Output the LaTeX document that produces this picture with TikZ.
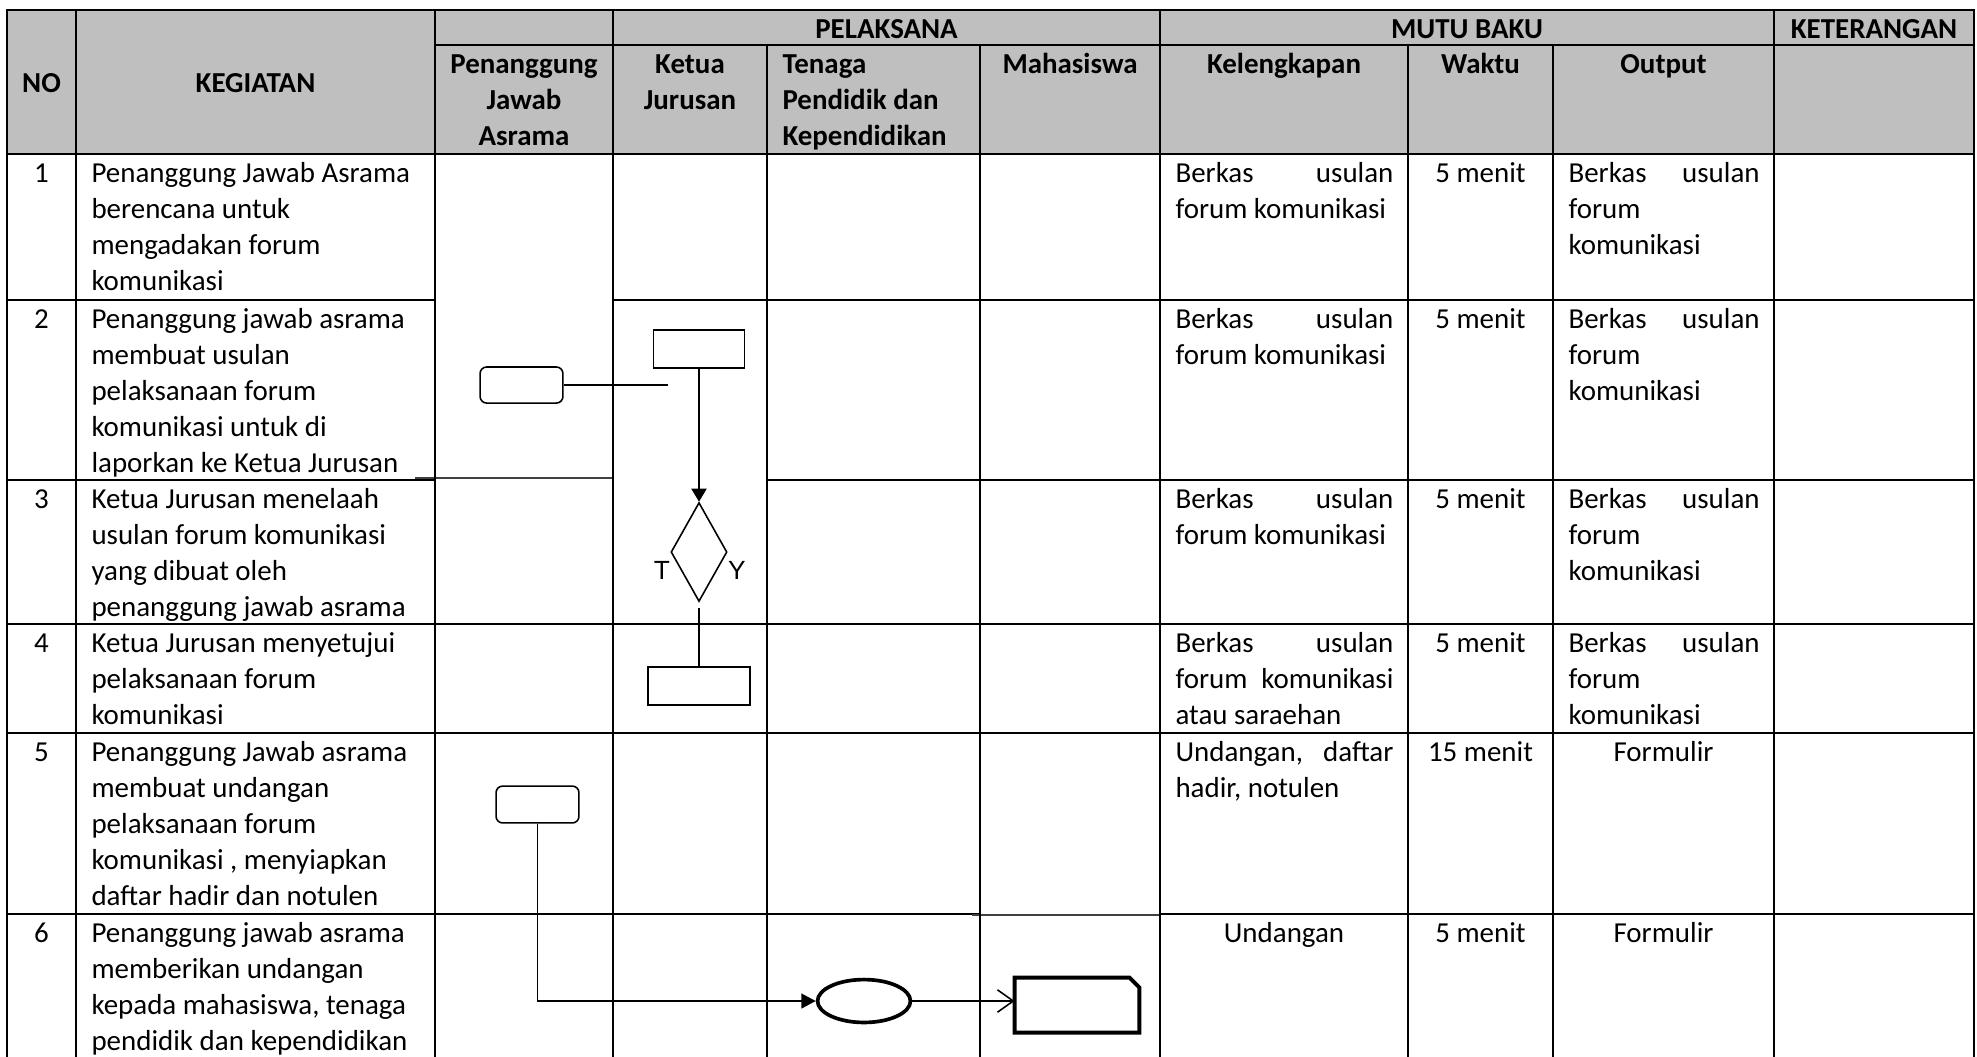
\documentclass[tikz,border=0pt]{standalone}
\usepackage{fontspec}
\setmainfont{Carlito}
\newfontfamily\arialfont{Liberation Sans}
\usetikzlibrary{shapes.geometric,arrows.meta}
\definecolor{headgray}{HTML}{BFBFBF}
\newcommand{\spread}[2]{\makebox[#1][s]{#2}}
\newcommand{\rowsl}[1]{\begin{tabular}[t]{@{}l@{}}#1\end{tabular}}
\newcommand{\rowsc}[1]{\begin{tabular}[t]{@{}c@{}}#1\end{tabular}}

\begin{document}
\begin{tikzpicture}[x=0.38pt,y=-0.38pt,
  grid/.style={line width=1pt,line cap=rect},
  thingrid/.style={line width=0.5pt,black!75},
  txt/.style={inner sep=0pt,font=\fontsize{11}{13.75}\selectfont,anchor=base west},
  ctxt/.style={txt,anchor=base},
  head/.style={ctxt,font=\fontsize{11}{13.75}\selectfont\bfseries},
  headl/.style={txt,font=\fontsize{11}{13.75}\selectfont\bfseries},
  procbox/.style={draw,line width=0.6pt,inner sep=0pt},
  startbox/.style={procbox,rounded corners=2.5pt},
  decbox/.style={draw,diamond,line width=0.6pt,inner sep=0pt},
  flow/.style={line width=0.6pt},
  yt/.style={inner sep=0pt,anchor=base,font=\arialfont\fontsize{10}{12}\selectfont}]
  \useasboundingbox (0,0) rectangle (1977,1056);

  % header
  \fill[headgray] (7,10) rectangle (1974,154);
  \node[head] (hNo) at (41.5,92) {NO};
  \node[head] (hKeg) at (255.5,92) {KEGIATAN};
  \node[head] (hPel) at (886.5,38) {PELAKSANA};
  \node[head] (hMutu) at (1467,38) {MUTU BAKU};
  \node[head] (hKet) at (1874,38) {KETERANGAN};
  \node[head] (hPja) at (524,73) {\rowsc{Penanggung\\Jawab\\Asrama}};
  \node[head] (hKj) at (690,73) {\rowsc{Ketua\\Jurusan}};
  \node[headl] (hTp) at (782,73) {\rowsl{Tenaga\\Pendidik dan\\Kependidikan}};
  \node[head] (hMhs) at (1070,73) {Mahasiswa};
  \node[head] (hKel) at (1284,73) {Kelengkapan};
  \node[head] (hWkt) at (1480.5,73) {Waktu};
  \node[head] (hOut) at (1663.5,73) {Output};

  % grid
  \draw[grid] (7,10) -- (1974,10);
  \draw[grid] (435,45) -- (1974,45);
  \draw[grid] (7,154) -- (1974,154);
  \draw[grid] (7,300) -- (435,300) (613,300) -- (1974,300);
  \draw[grid] (7,480) -- (435,480) (767,480) -- (1974,480);
  \draw[thingrid] (415,478) -- (613,478);
  \draw[grid] (7,624) -- (1974,624);
  \draw[grid] (7,733) -- (1974,733);
  \draw[grid] (7,914) -- (980,914) (1160,914) -- (1974,914);
  \draw[thingrid] (972,915) -- (1160,915);
  \draw[grid] (7,10) -- (7,1056) (76,10) -- (76,1056) (435,10) -- (435,1056)
    (613,10) -- (613,1056) (1160,10) -- (1160,1056) (1774,10) -- (1774,1056)
    (1974,10) -- (1974,1056);
  \draw[grid] (767,45) -- (767,1056) (980,45) -- (980,1056)
    (1408,45) -- (1408,1056) (1553,45) -- (1553,1056);

  % rows
  \node[ctxt] (no1) at (41.5,182) {1};
  \node[ctxt] (no2) at (41.5,328) {2};
  \node[ctxt] (no3) at (41.5,508) {3};
  \node[ctxt] (no4) at (41.5,652) {4};
  \node[ctxt] (no5) at (41.5,761) {5};
  \node[ctxt] (no6) at (41.5,942) {6};
  \node[txt] (keg1) at (91,182) {\rowsl{Penanggung Jawab Asrama\\berencana untuk\\mengadakan forum\\komunikasi}};
  \node[txt] (keg2) at (91,328) {\rowsl{Penanggung jawab asrama\\membuat usulan\\pelaksanaan forum\\komunikasi untuk di\\laporkan ke Ketua Jurusan}};
  \node[txt] (keg3) at (91,508) {\rowsl{Ketua Jurusan menelaah\\usulan forum komunikasi\\yang dibuat oleh\\penanggung jawab asrama}};
  \node[txt] (keg4) at (91,652) {\rowsl{Ketua Jurusan menyetujui\\pelaksanaan forum\\komunikasi}};
  \node[txt] (keg5) at (91,761) {\rowsl{Penanggung Jawab asrama\\membuat undangan\\pelaksanaan forum\\komunikasi , menyiapkan\\daftar hadir dan notulen}};
  \node[txt] (keg6) at (91,942) {\rowsl{Penanggung jawab asrama\\memberikan undangan\\kepada mahasiswa, tenaga\\pendidik dan kependidikan}};

  \node[txt] (kel1) at (1175,182) {\rowsl{\spread{82.8pt}{Berkas usulan}\\forum komunikasi}};
  \node[txt] (kel2) at (1175,328) {\rowsl{\spread{82.8pt}{Berkas usulan}\\forum komunikasi}};
  \node[txt] (kel3) at (1175,508) {\rowsl{\spread{82.8pt}{Berkas usulan}\\forum komunikasi}};
  \node[txt] (kel4) at (1175,652) {\rowsl{\spread{82.8pt}{Berkas usulan}\\\spread{82.8pt}{forum komunikasi}\\atau saraehan}};
  \node[txt] (kel5) at (1175,761) {\rowsl{\spread{82.8pt}{Undangan, daftar}\\hadir, notulen}};
  \node[ctxt] (kel6) at (1284,942) {Undangan};

  \node[ctxt] (wkt1) at (1480.5,182) {5 menit};
  \node[ctxt] (wkt2) at (1480.5,328) {5 menit};
  \node[ctxt] (wkt3) at (1480.5,508) {5 menit};
  \node[ctxt] (wkt4) at (1480.5,652) {5 menit};
  \node[ctxt] (wkt5) at (1480.5,761) {15 menit};
  \node[ctxt] (wkt6) at (1480.5,942) {5 menit};

  \node[txt] (out1) at (1568,182) {\rowsl{\spread{72.6pt}{Berkas usulan}\\forum\\komunikasi}};
  \node[txt] (out2) at (1568,328) {\rowsl{\spread{72.6pt}{Berkas usulan}\\forum\\komunikasi}};
  \node[txt] (out3) at (1568,508) {\rowsl{\spread{72.6pt}{Berkas usulan}\\forum\\komunikasi}};
  \node[txt] (out4) at (1568,652) {\rowsl{\spread{72.6pt}{Berkas usulan}\\forum\\komunikasi}};
  \node[ctxt] (out5) at (1663.5,761) {Formulir};
  \node[ctxt] (out6) at (1663.5,942) {Formulir};

  % flow
  \node[startbox,minimum width=31.5pt,minimum height=13.7pt] (pjaUsul) at (521.5,385) {};
  \coordinate (usulEnd) at (668,385);
  \draw[flow] (pjaUsul.east) -- (usulEnd);
  \node[procbox,minimum width=34.6pt,minimum height=14.4pt] (kjUsul) at (699,349) {};
  \node[decbox,minimum width=21.3pt,minimum height=37.6pt] (kjTelaah) at (699,552) {};
  \draw[flow,line width=0.9pt,-{Triangle[length=5pt,width=5.7pt]}] (kjUsul.south) -- (kjTelaah.north);
  \node[yt] (labT) at (662,579) {T};
  \node[yt] (labY) at (737,579) {Y};
  \node[procbox,minimum width=38.8pt,minimum height=14.4pt] (kjSetuju) at (699,686) {};
  \draw[flow] ([yshift=-2pt]kjTelaah.south) -- (kjSetuju.north);

  \node[startbox,minimum width=31.5pt,minimum height=14pt] (pjaUndang) at (537.5,804.5) {};
  \node[draw,ellipse,line width=1.4pt,minimum width=35.3pt,minimum height=16.3pt,inner sep=0pt] (tpUndang) at (864,1001) {};
  \draw[flow,-{Triangle[length=5.5pt,width=5.7pt]}] (pjaUndang.south) |- (tpUndang.west);
  \node[minimum width=47pt,minimum height=20.5pt,inner sep=0pt] (mhsUndang) at (1077,1005) {};
  \draw[line width=1.5pt] (mhsUndang.south west) -- (mhsUndang.north west)
    -- ([xshift=-3.8pt]mhsUndang.north east) -- ([yshift=-3.8pt]mhsUndang.north east)
    -- (mhsUndang.south east) -- cycle;
  \draw[flow,-{Straight Barb[length=6pt,width=8.5pt]}] (tpUndang.east) -- (tpUndang.east -| mhsUndang.west);
\end{tikzpicture}
\end{document}
